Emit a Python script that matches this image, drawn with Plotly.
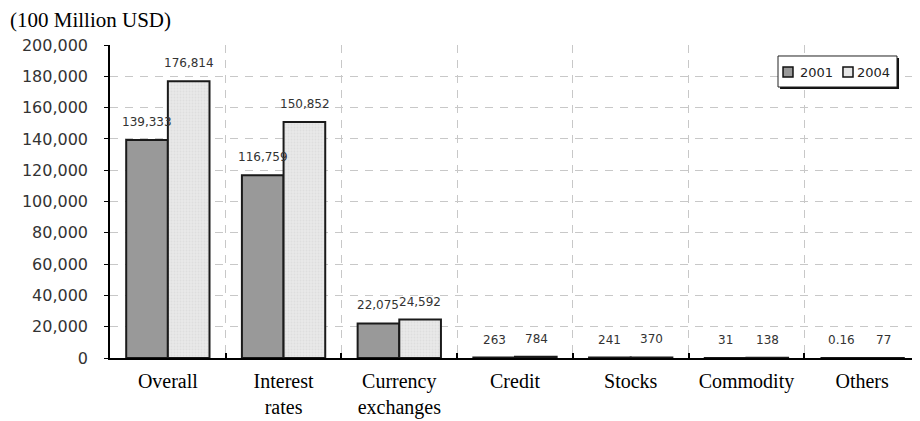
import plotly.graph_objects as go

categories = ["Overall", "Interest<br>rates", "Currency<br>exchanges", "Credit", "Stocks", "Commodity", "Others"]
values_2001 = [139333, 116759, 22075, 263, 241, 31, 0.16]
values_2004 = [176814, 150852, 24592, 784, 370, 138, 77]
series_names = ["2001", "2004"]
series_colors = ["#999999", "#e6e6e6"]
y_ticks = [0, 20000, 40000, 60000, 80000, 100000, 120000, 140000, 160000, 180000, 200000]

def fmt(v):
    return f"{v:,}"

SANS = "DejaVu Sans, Verdana, sans-serif"
SERIF = "Liberation Serif, Times New Roman, serif"

fig = go.Figure()
fig.add_trace(go.Bar(
    name=series_names[0], x=categories, y=values_2001, showlegend=False,
    marker=dict(color=series_colors[0], line=dict(color="#1a1a1a", width=2)),
))
fig.add_trace(go.Bar(
    name=series_names[1], x=categories, y=values_2004, showlegend=False,
    marker=dict(color=series_colors[1], line=dict(color="#1a1a1a", width=2),
                pattern=dict(shape=".", fgcolor="#d4d4d4", bgcolor="#e8e8e8", size=3, solidity=0.3)),
))

annotations = []
for c, v in zip(categories, values_2001):
    annotations.append(dict(x=c, y=v, text=fmt(v), showarrow=False, xshift=-21, yshift=18,
                            font=dict(family=SANS, size=12, color="#333")))
for c, v in zip(categories, values_2004):
    annotations.append(dict(x=c, y=v, text=fmt(v), showarrow=False, xshift=21, yshift=18,
                            font=dict(family=SANS, size=12, color="#333")))
annotations.append(dict(text="(100 Million USD)", xref="paper", yref="paper", x=-0.1259, y=1.08,
                        xanchor="left", yanchor="middle", showarrow=False,
                        font=dict(family=SERIF, size=21, color="#000")))

# custom legend (box with shadow, swatches, labels)
shapes = [
    dict(type="rect", xref="paper", yref="paper", x0=0.8272, x1=0.9741, y0=0.8594, y1=0.9585,
         fillcolor="#111", line=dict(width=0), layer="above"),
    dict(type="rect", xref="paper", yref="paper", x0=0.8247, x1=0.9716, y0=0.8658, y1=0.9649,
         fillcolor="white", line=dict(color="#222", width=1), layer="above"),
]
sw_x = [(0.8309, 0.8432), (0.9049, 0.9173)]
tx_x = [0.8494, 0.9198]
for name, col, (a, b), tx in zip(series_names, series_colors, sw_x, tx_x):
    shapes.append(dict(type="rect", xref="paper", yref="paper", x0=a, x1=b, y0=0.8978, y1=0.9297,
                       fillcolor=col, line=dict(color="#111", width=1.5), layer="above"))
    annotations.append(dict(text=name, xref="paper", yref="paper", x=tx, y=0.9137,
                            xanchor="left", yanchor="middle", showarrow=False,
                            font=dict(family=SANS, size=13, color="#222")))

fig.update_layout(
    width=912, height=413,
    margin=dict(l=102, r=0, t=37, b=63),
    plot_bgcolor="white", paper_bgcolor="white",
    barmode="group", bargap=0.28, bargroupgap=0,
    annotations=annotations, shapes=shapes,
    showlegend=False,
)
fig.update_xaxes(
    type="category", tickson="boundaries", ticks="inside", ticklen=5, tickcolor="#000", tickwidth=1.5,
    showline=True, linecolor="#000", linewidth=2,
    showgrid=True, gridcolor="#c8c8c8", griddash="8px,7px", gridwidth=1,
    tickfont=dict(family=SERIF, size=20, color="#000"),
    ticklabelstandoff=4, automargin=False,
)
fig.update_yaxes(
    range=[0, 200000], tickvals=y_ticks, tickformat=",",
    ticks="outside", ticklen=4, tickcolor="#000",
    showline=True, linecolor="#000", linewidth=1.5,
    showgrid=True, gridcolor="#c8c8c8", griddash="8px,7px", gridwidth=1,
    zeroline=False,
    tickfont=dict(family=SANS, size=16, color="#333"),
    ticklabelstandoff=13, automargin=False,
)
fig.write_html("out.html")
